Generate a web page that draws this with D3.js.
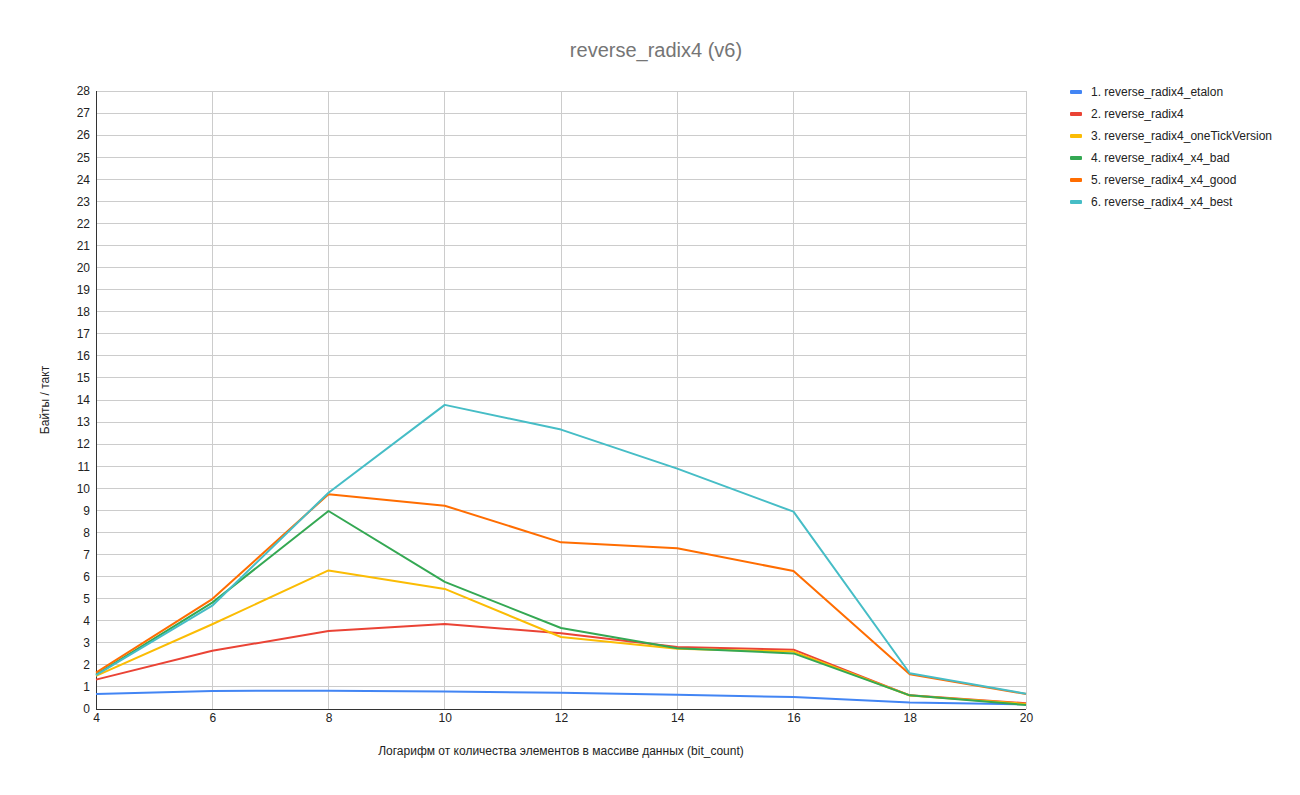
<!DOCTYPE html>
<html>
<head>
<meta charset="utf-8">
<script src="https://cdn.jsdelivr.net/npm/d3@7"></script>
<style>
  body { margin: 0; background: #fff; }
  svg { font-family: "Liberation Sans", Arial, sans-serif; }
</style>
</head>
<body>
<div id="chart"></div>
<script>
const bitCounts = [4, 6, 8, 10, 12, 14, 16, 18, 20]
const seriesNames = [
  "1. reverse_radix4_etalon",
  "2. reverse_radix4",
  "3. reverse_radix4_oneTickVersion",
  "4. reverse_radix4_x4_bad",
  "5. reverse_radix4_x4_good",
  "6. reverse_radix4_x4_best"
]
const etalon = [0.68, 0.82, 0.83, 0.79, 0.74, 0.65, 0.54, 0.30, 0.21]
const radix4 = [1.33, 2.64, 3.53, 3.85, 3.43, 2.81, 2.69, 0.62, 0.26]
const oneTick = [1.50, 3.84, 6.28, 5.44, 3.26, 2.73, 2.60, 0.61, 0.23]
const x4bad = [1.56, 4.82, 8.97, 5.76, 3.67, 2.75, 2.52, 0.62, 0.18]
const x4good = [1.65, 4.98, 9.73, 9.21, 7.55, 7.28, 6.25, 1.57, 0.68]
const x4best = [1.53, 4.68, 9.80, 13.78, 12.66, 10.89, 8.94, 1.62, 0.69]
const seriesColors = ["#4285F4", "#EA4335", "#FBBC04", "#34A853", "#FF6D01", "#46BDC6"]
const yTicks = d3.range(0, 29)

const allSeries = [etalon, radix4, oneTick, x4bad, x4good, x4best]

const width = 1300, height = 795
const margin = { top: 91, right: 274, bottom: 86, left: 96 }

const svg = d3.select("#chart").append("svg")
  .attr("width", width)
  .attr("height", height)

const x = d3.scaleLinear().domain([4, 20]).range([margin.left, width - margin.right])
const y = d3.scaleLinear().domain([0, 28]).range([height - margin.bottom, margin.top])

// gridlines
svg.append("g")
  .selectAll("line.h")
  .data(yTicks.filter(d => d > 0))
  .enter().append("line")
  .attr("x1", x(4)).attr("x2", x(20))
  .attr("y1", d => y(d)).attr("y2", d => y(d))
  .attr("stroke", "#cccccc").attr("stroke-width", 1)
  .attr("shape-rendering", "crispEdges")

svg.append("g")
  .selectAll("line.v")
  .data(bitCounts.filter(d => d > 4))
  .enter().append("line")
  .attr("x1", d => x(d)).attr("x2", d => x(d))
  .attr("y1", y(0)).attr("y2", y(28))
  .attr("stroke", "#cccccc").attr("stroke-width", 1)
  .attr("shape-rendering", "crispEdges")

// baselines
svg.append("line")
  .attr("x1", x(4)).attr("x2", x(4)).attr("y1", y(0)).attr("y2", y(28))
  .attr("stroke", "#333").attr("shape-rendering", "crispEdges")
svg.append("line")
  .attr("x1", x(4)).attr("x2", x(20)).attr("y1", y(0)).attr("y2", y(0))
  .attr("stroke", "#333").attr("shape-rendering", "crispEdges")

// axes (labels only)
const yAxis = svg.append("g")
  .attr("transform", "translate(" + (margin.left) + ",0)")
  .call(d3.axisLeft(y).tickValues(yTicks).tickSize(0).tickPadding(6))
yAxis.select(".domain").remove()
yAxis.selectAll("text").attr("font-size", 12).attr("fill", "#222")
  .attr("font-family", "Liberation Sans, Arial, sans-serif")

const xAxis = svg.append("g")
  .attr("transform", "translate(0," + y(0) + ")")
  .call(d3.axisBottom(x).tickValues(bitCounts).tickSize(0).tickPadding(4))
xAxis.select(".domain").remove()
xAxis.selectAll("text").attr("font-size", 12).attr("fill", "#222")
  .attr("font-family", "Liberation Sans, Arial, sans-serif")

// lines
const line = d3.line()
  .x((d, i) => x(bitCounts[i]))
  .y(d => y(d))

svg.append("g")
  .selectAll("path")
  .data(allSeries)
  .enter().append("path")
  .attr("d", d => line(d))
  .attr("fill", "none")
  .attr("stroke", (d, i) => seriesColors[i])
  .attr("stroke-width", 2)
  .attr("stroke-linejoin", "round")

// title
svg.append("text")
  .attr("x", 656).attr("y", 57)
  .attr("text-anchor", "middle")
  .attr("font-size", 20)
  .attr("fill", "#757575")
  .text("reverse_radix4 (v6)")

// axis titles
svg.append("text")
  .attr("x", (x(4) + x(20)) / 2).attr("y", 755)
  .attr("text-anchor", "middle")
  .attr("font-size", 12)
  .attr("fill", "#222")
  .text("Логарифм от количества элементов в массиве данных (bit_count)")

svg.append("text")
  .attr("transform", "translate(49," + ((y(0) + y(28)) / 2) + ") rotate(-90)")
  .attr("text-anchor", "middle")
  .attr("font-size", 12)
  .attr("fill", "#222")
  .text("Байты / такт")

// legend
const legend = svg.append("g")
  .selectAll("g")
  .data(seriesNames)
  .enter().append("g")
  .attr("transform", (d, i) => "translate(1070," + (92 + i * 22) + ")")

legend.append("rect")
  .attr("x", 0).attr("y", -2)
  .attr("width", 12).attr("height", 4)
  .attr("rx", 1)
  .attr("fill", (d, i) => seriesColors[i])

legend.append("text")
  .attr("x", 21).attr("y", 4)
  .attr("font-size", 12)
  .attr("fill", "#222")
  .text(d => d)
</script>
</body>
</html>
